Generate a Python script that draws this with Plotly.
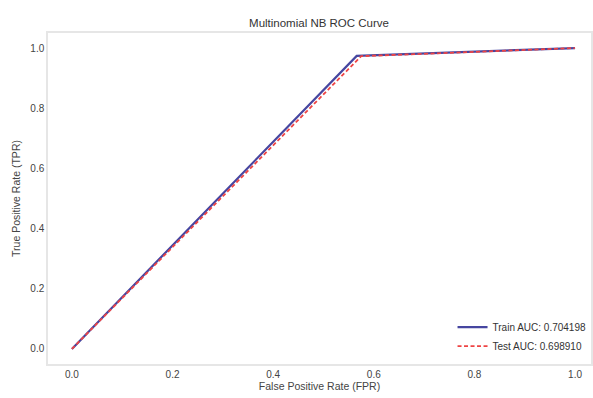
import plotly.graph_objects as go

train_fpr = [0.0, 0.566, 1.0]
train_tpr = [0.0, 0.974, 1.0]
test_fpr = [0.0, 0.575, 1.0]
test_tpr = [0.0, 0.973, 1.0]
train_label = "Train AUC: 0.704198"
test_label = "Test AUC: 0.698910"
ticks = [0.0, 0.2, 0.4, 0.6, 0.8, 1.0]
tick_text = ["0.0", "0.2", "0.4", "0.6", "0.8", "1.0"]

fig = go.Figure()
fig.add_trace(go.Scatter(x=train_fpr, y=train_tpr, mode="lines", name=train_label,
                         line=dict(color="#4646a0", width=2.2)))
fig.add_trace(go.Scatter(x=test_fpr, y=test_tpr, mode="lines", name=test_label,
                         line=dict(color="#ee4444", width=1.8, dash="4px,2.5px")))

axis_common = dict(showgrid=False, zeroline=False, showline=True, mirror=True,
                   linecolor="#e6e6e6", linewidth=1.5, ticks="",
                   tickfont=dict(family="Liberation Sans, Arial", size=10, color="#444444"),
                   tickvals=ticks, ticktext=tick_text)

fig.update_layout(
    width=593, height=398,
    margin=dict(l=48, r=0, t=33, b=34),
    paper_bgcolor="white", plot_bgcolor="white",
    title=dict(text="Multinomial NB ROC Curve", x=0.538, xanchor="center", y=0.943, yanchor="middle",
               font=dict(family="Liberation Sans, Arial", size=11.5, color="#333333")),
    xaxis=dict(range=[-0.0475, 1.0317],
               title=dict(text="False Positive Rate (FPR)", standoff=2,
                          font=dict(family="Liberation Sans, Arial", size=10.5, color="#444444")),
               **axis_common),
    yaxis=dict(range=[-0.05, 1.05],
               title=dict(text="True Positive Rate (TPR)", standoff=8,
                          font=dict(family="Liberation Sans, Arial", size=10.5, color="#444444")),
               **axis_common),
    legend=dict(x=0.745, y=0.01, xanchor="left", yanchor="bottom", bgcolor="rgba(0,0,0,0)",
                font=dict(family="Liberation Sans, Arial", size=10, color="#333333"),
                tracegroupgap=0, itemwidth=30),
    showlegend=True,
)
fig.write_html("out.html")
